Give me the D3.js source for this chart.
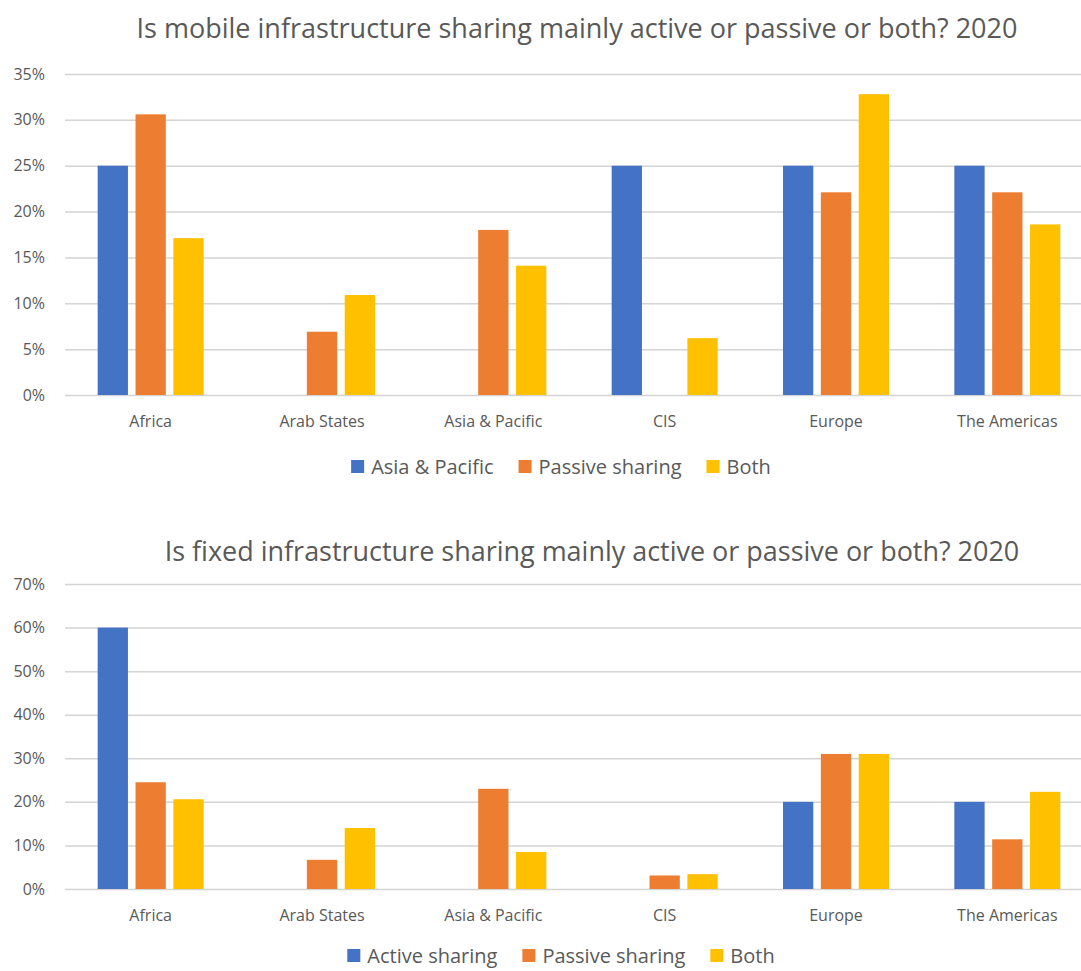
<!DOCTYPE html>
<html>
<head>
<meta charset="utf-8">
<script src="https://cdn.jsdelivr.net/npm/d3@7"></script>
<style>
  body { margin: 0; background: #fff; }
  text { font-family: "Open Sans", "Noto Sans", sans-serif; fill: #595959; }
</style>
</head>
<body>
<div id="chart"></div>
<script>
var width = 1081,
  height = 971;

const regions = ["Africa", "Arab States", "Asia & Pacific", "CIS", "Europe", "The Americas"]
const seriesKeys = ["active", "passive", "both"]
const colors = ["#4472C4", "#ED7D31", "#FFC000"]

// mobile sharing (top chart)
const mobileLegend = ["Asia & Pacific", "Passive sharing", "Both"]
const mobileActive = [25, 0, 0, 25, 25, 25]
const mobilePassive = [30.6, 6.9, 18, 0, 22.1, 22.1]
const mobileBoth = [17.1, 10.9, 14.1, 6.2, 32.8, 18.6]
const mobileTicks = [0, 5, 10, 15, 20, 25, 30, 35]

// fixed sharing (bottom chart)
const fixedLegend = ["Active sharing", "Passive sharing", "Both"]
const fixedActive = [60, 0, 0, 0, 20, 20]
const fixedPassive = [24.5, 6.7, 23, 3.1, 31, 11.4]
const fixedBoth = [20.6, 14, 8.5, 3.4, 31, 22.3]
const fixedTicks = [0, 10, 20, 30, 40, 50, 60, 70]

var svg = d3.select("#chart").append("svg")
  .attr("width", width)
  .attr("height", height)

// the plot area runs a bit past the right edge of the picture (it was cropped)
var plotLeft = 65,
  plotRight = 1093

function drawChart(opt) {
  var g = svg.append("g")

  var x0 = d3.scaleBand()
    .domain(regions)
    .range([plotLeft, plotRight])

  var groupW = 106
  var x1 = d3.scaleBand()
    .domain(seriesKeys)
    .range([0, groupW])
    .paddingInner(0.2)

  var y = d3.scaleLinear()
    .domain([0, d3.max(opt.ticks)])
    .range([opt.bottom, opt.top])

  // gridlines + tick labels
  var yAxis = d3.axisLeft(y)
    .tickValues(opt.ticks)
    .tickSize(-(plotRight - plotLeft))
    .tickPadding(20)
    .tickFormat(d => d + "%")

  var ax = g.append("g")
    .attr("transform", "translate(" + plotLeft + ",0)")
    .call(yAxis)
  ax.select(".domain").remove()
  ax.selectAll(".tick line")
    .attr("stroke", "#d4d4d4")
    .attr("stroke-width", 1.5)
  ax.selectAll(".tick text")
    .style("font-size", "16px")
    .attr("fill", "#595959")

  var rows = regions.map((r, i) => ({
    region: r,
    values: [opt.active[i], opt.passive[i], opt.both[i]]
  }))

  g.append("g")
    .selectAll("g")
    .data(rows)
    .enter().append("g")
    .attr("transform", d => "translate(" + (x0(d.region) + (x0.bandwidth() - groupW) / 2) + ",0)")
    .selectAll("rect")
    .data(d => d.values.map((v, i) => ({ key: seriesKeys[i], v: v, c: colors[i] })).filter(d => d.v > 0))
    .enter().append("rect")
    .attr("x", d => x1(d.key))
    .attr("width", x1.bandwidth())
    .attr("y", d => y(d.v))
    .attr("height", d => y(0) - y(d.v))
    .attr("fill", d => d.c)

  // category labels
  g.append("g")
    .selectAll("text")
    .data(regions)
    .enter().append("text")
    .attr("x", d => x0(d) + x0.bandwidth() / 2)
    .attr("y", opt.bottom + 32)
    .attr("text-anchor", "middle")
    .style("font-size", "16px")
    .text(d => d)

  // title, fitted to the width it has in the original
  var title = g.append("text")
    .attr("x", opt.titleX)
    .attr("y", opt.titleY)
    .attr("text-anchor", "middle")
    .style("font-size", "26px")
    .text(opt.title)
  var tw = title.node().getComputedTextLength()
  title.style("font-size", (26 * opt.titleW / tw) + "px")

  // legend
  var lg = g.append("g")
  var xPos = 0
  opt.legend.forEach((name, i) => {
    lg.append("rect")
      .attr("x", xPos)
      .attr("y", -7)
      .attr("width", 13)
      .attr("height", 13)
      .attr("fill", colors[i])
    var t = lg.append("text")
      .attr("x", xPos + 20)
      .attr("y", 7)
      .style("font-size", "20px")
      .text(name)
    xPos += 20 + t.node().getComputedTextLength() + 25
  })
  var lw = xPos - 25
  lg.attr("transform", "translate(" + (opt.legendX - lw / 2) + "," + opt.legendY + ")")
}

drawChart({
  title: "Is mobile infrastructure sharing mainly active or passive or both? 2020",
  titleX: 577, titleY: 38, titleW: 881,
  top: 74, bottom: 395,
  ticks: mobileTicks,
  active: mobileActive, passive: mobilePassive, both: mobileBoth,
  legend: mobileLegend,
  legendX: 561, legendY: 467
})

drawChart({
  title: "Is fixed infrastructure sharing mainly active or passive or both? 2020",
  titleX: 592, titleY: 561, titleW: 855,
  top: 584, bottom: 889,
  ticks: fixedTicks,
  active: fixedActive, passive: fixedPassive, both: fixedBoth,
  legend: fixedLegend,
  legendX: 561, legendY: 956
})
</script>
</body>
</html>
